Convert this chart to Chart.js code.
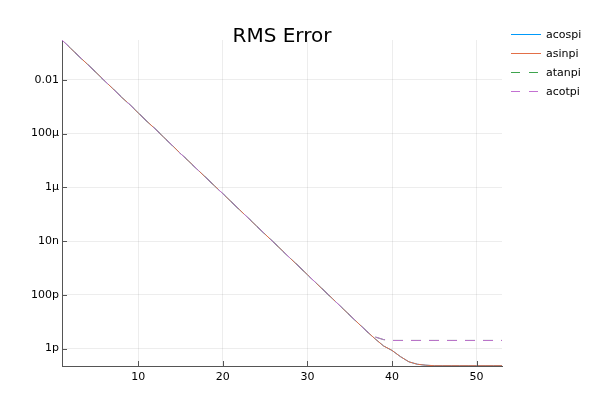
<!DOCTYPE html>
<html>
<head>
<meta charset="utf-8">
<title>RMS Error</title>
<script src="https://cdn.jsdelivr.net/npm/chart.js@4/dist/chart.umd.min.js"></script>
<style>
  html, body { margin: 0; padding: 0; background: #fff; }
  #wrap { width: 600px; height: 400px; }
</style>
</head>
<body>
<div id="wrap"><canvas id="chart-area" width="600" height="400"></canvas></div>
<script>
// chart data

var nValues = [1, 2, 3, 4, 5, 6, 7, 8, 9, 10, 11, 12, 13, 14, 15, 16, 17, 18, 19, 20,
	21, 22, 23, 24, 25, 26, 27, 28, 29, 30, 31, 32, 33, 34, 35, 36, 37, 38, 39, 40,
	41, 42, 43, 44, 45, 46, 47, 48, 49, 50, 51, 52, 53];

var acospiErr = [3.0e-1, 1.5e-1, 7.5e-2, 3.8e-2, 1.9e-2, 9.4e-3, 4.7e-3, 2.3e-3, 1.2e-3, 5.9e-4,
	2.9e-4, 1.5e-4, 7.4e-5, 3.7e-5, 1.8e-5, 9.2e-6, 4.6e-6, 2.3e-6, 1.15e-6, 5.8e-7,
	2.9e-7, 1.44e-7, 7.2e-8, 3.6e-8, 1.8e-8, 9.0e-9, 4.5e-9, 2.25e-9, 1.13e-9, 5.6e-10,
	2.8e-10, 1.4e-10, 7.0e-11, 3.5e-11, 1.76e-11, 8.8e-12, 4.4e-12, 2.3e-12, 1.25e-12, 8.5e-13,
	5.0e-13, 3.2e-13, 2.6e-13, 2.4e-13, 2.3e-13, 2.3e-13, 2.3e-13, 2.3e-13, 2.3e-13, 2.3e-13,
	2.3e-13, 2.3e-13, 2.3e-13];

var asinpiErr = [3.0e-1, 1.5e-1, 7.5e-2, 3.8e-2, 1.9e-2, 9.4e-3, 4.7e-3, 2.3e-3, 1.2e-3, 5.9e-4,
	2.9e-4, 1.5e-4, 7.4e-5, 3.7e-5, 1.8e-5, 9.2e-6, 4.6e-6, 2.3e-6, 1.15e-6, 5.8e-7,
	2.9e-7, 1.44e-7, 7.2e-8, 3.6e-8, 1.8e-8, 9.0e-9, 4.5e-9, 2.25e-9, 1.13e-9, 5.6e-10,
	2.8e-10, 1.4e-10, 7.0e-11, 3.5e-11, 1.76e-11, 8.8e-12, 4.4e-12, 2.3e-12, 1.25e-12, 8.5e-13,
	5.0e-13, 3.2e-13, 2.6e-13, 2.4e-13, 2.3e-13, 2.3e-13, 2.3e-13, 2.3e-13, 2.3e-13, 2.3e-13,
	2.3e-13, 2.3e-13, 2.3e-13];

var atanpiErr = [3.0e-1, 1.5e-1, 7.5e-2, 3.8e-2, 1.9e-2, 9.4e-3, 4.7e-3, 2.3e-3, 1.2e-3, 5.9e-4,
	2.9e-4, 1.5e-4, 7.4e-5, 3.7e-5, 1.8e-5, 9.2e-6, 4.6e-6, 2.3e-6, 1.15e-6, 5.8e-7,
	2.9e-7, 1.44e-7, 7.2e-8, 3.6e-8, 1.8e-8, 9.0e-9, 4.5e-9, 2.25e-9, 1.13e-9, 5.6e-10,
	2.8e-10, 1.4e-10, 7.0e-11, 3.5e-11, 1.76e-11, 8.8e-12, 4.4e-12, 2.7e-12, 2.15e-12, 2.0e-12,
	2.0e-12, 2.0e-12, 2.0e-12, 2.0e-12, 2.0e-12, 2.0e-12, 2.0e-12, 2.0e-12, 2.0e-12, 2.0e-12,
	2.0e-12, 2.0e-12, 2.0e-12];

var acotpiErr = [3.0e-1, 1.5e-1, 7.5e-2, 3.8e-2, 1.9e-2, 9.4e-3, 4.7e-3, 2.3e-3, 1.2e-3, 5.9e-4,
	2.9e-4, 1.5e-4, 7.4e-5, 3.7e-5, 1.8e-5, 9.2e-6, 4.6e-6, 2.3e-6, 1.15e-6, 5.8e-7,
	2.9e-7, 1.44e-7, 7.2e-8, 3.6e-8, 1.8e-8, 9.0e-9, 4.5e-9, 2.25e-9, 1.13e-9, 5.6e-10,
	2.8e-10, 1.4e-10, 7.0e-11, 3.5e-11, 1.76e-11, 8.8e-12, 4.4e-12, 2.7e-12, 2.15e-12, 2.0e-12,
	2.0e-12, 2.0e-12, 2.0e-12, 2.0e-12, 2.0e-12, 2.0e-12, 2.0e-12, 2.0e-12, 2.0e-12, 2.0e-12,
	2.0e-12, 2.0e-12, 2.0e-12];

var seriesNames = ["acospi", "asinpi", "atanpi", "acotpi"];
var xTickValues = [10, 20, 30, 40, 50];
var yTickValues = [1e-2, 1e-4, 1e-6, 1e-8, 1e-10, 1e-12];
var yTickLabels = ["0.01", "100\u00b5", "1\u00b5", "10n", "100p", "1p"];

var FONT = "'DejaVu Sans', sans-serif";
var AXIS_COLOR = "#555555";
var GRID_COLOR = "rgba(0,0,0,0.07)";

function points(ys) {
	var out = [];
	for (var i = 0; i < nValues.length; i++) {
		out.push({ x: nValues[i], y: ys[i] });
	}
	return out;
}

// ticks drawn inward, like the GR backend does
var innerTicks = {
	id: 'innerTicks',
	afterDraw: function(chart) {
		var ctx = chart.ctx, area = chart.chartArea;
		var xs = chart.scales.x, ys = chart.scales.y;
		ctx.save();
		ctx.strokeStyle = AXIS_COLOR;
		ctx.lineWidth = 1;
		ctx.beginPath();
		xTickValues.forEach(function(v) {
			var px = Math.round(xs.getPixelForValue(v)) + 0.5;
			ctx.moveTo(px, area.bottom);
			ctx.lineTo(px, area.bottom - 5);
		});
		yTickValues.forEach(function(v) {
			var py = Math.round(ys.getPixelForValue(v)) + 0.5;
			ctx.moveTo(area.left, py);
			ctx.lineTo(area.left + 5, py);
		});
		ctx.stroke();
		ctx.restore();
	}
};

// title centred over the plot area
var plotTitle = {
	id: 'plotTitle',
	afterDraw: function(chart) {
		var ctx = chart.ctx, area = chart.chartArea;
		ctx.save();
		ctx.fillStyle = '#000';
		ctx.font = "20px " + FONT;
		ctx.textAlign = 'center';
		ctx.textBaseline = 'alphabetic';
		ctx.fillText("RMS Error", (area.left + area.right) / 2, 42);
		ctx.restore();
	}
};

// legend to the right of the plot
var sideLegend = {
	id: 'sideLegend',
	afterDraw: function(chart) {
		var ctx = chart.ctx;
		var x0 = chart.chartArea.right + 9;
		ctx.save();
		ctx.font = "11px " + FONT;
		ctx.textBaseline = 'middle';
		ctx.textAlign = 'left';
		chart.data.datasets.forEach(function(ds, i) {
			var y = 34 + i * 19;
			ctx.strokeStyle = ds.borderColor;
			ctx.lineWidth = 1;
			ctx.setLineDash(ds.borderDash ? [9, 9] : []);
			ctx.beginPath();
			ctx.moveTo(x0, y + 0.5);
			ctx.lineTo(x0 + 30, y + 0.5);
			ctx.stroke();
			ctx.setLineDash([]);
			ctx.fillStyle = '#000';
			ctx.fillText(ds.label, x0 + 35, y + 1);
		});
		ctx.restore();
	}
};

window.onload = function() {
	var ctx = document.getElementById("chart-area").getContext("2d");
	window.myChart = new Chart(ctx, {
		type: 'line',
		data: {
			datasets: [{
				label: seriesNames[0],
				data: points(acospiErr),
				borderColor: "#009AFA",
				order: 3
			}, {
				label: seriesNames[1],
				data: points(asinpiErr),
				borderColor: "#E36F47",
				order: 2
			}, {
				label: seriesNames[2],
				data: points(atanpiErr),
				borderColor: "#3EA44E",
				borderDash: [10, 8],
				order: 1
			}, {
				label: seriesNames[3],
				data: points(acotpiErr),
				borderColor: "#C371D2",
				borderDash: [10, 8],
				order: 0
			}]
		},
		options: {
			responsive: false,
			animation: false,
			layout: { padding: { top: 40, right: 98, left: 0, bottom: 0 } },
			elements: {
				point: { radius: 0 },
				line: { borderWidth: 1, tension: 0, fill: false }
			},
			plugins: {
				legend: { display: false },
				title: { display: false },
				tooltip: { enabled: false }
			},
			scales: {
				x: {
					type: 'linear',
					min: 1,
					max: 53,
					afterBuildTicks: function(scale) {
						scale.ticks = xTickValues.map(function(v) { return { value: v }; });
					},
					afterFit: function(scale) { scale.height = 34; },
					grid: { color: GRID_COLOR, drawTicks: false },
					border: { color: AXIS_COLOR, width: 1 },
					ticks: {
						color: '#000',
						font: { family: FONT, size: 11 },
						padding: 5,
						maxRotation: 0
					}
				},
				y: {
					type: 'logarithmic',
					min: 2.24e-13,
					max: 0.302,
					afterBuildTicks: function(scale) {
						scale.ticks = yTickValues.map(function(v) { return { value: v }; });
					},
					afterFit: function(scale) { scale.width = 62; },
					grid: { color: GRID_COLOR, drawTicks: false },
					border: { color: AXIS_COLOR, width: 1 },
					ticks: {
						color: '#000',
						font: { family: FONT, size: 11 },
						padding: 3,
						callback: function(value, index) { return yTickLabels[index]; }
					}
				}
			}
		},
		plugins: [innerTicks, plotTitle, sideLegend]
	});
};
</script>
</body>
</html>
